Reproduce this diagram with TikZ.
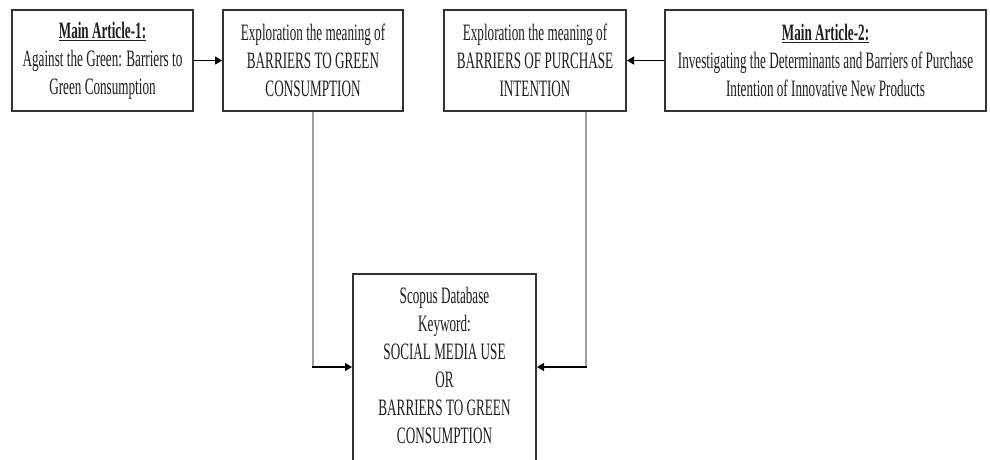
\documentclass[tikz,border=0pt]{standalone}
\usepackage{fontspec}
\setmainfont{Liberation Serif}[FakeStretch=0.56]
\usetikzlibrary{arrows.meta}
\definecolor{boxgray}{HTML}{333333}
\definecolor{linegray}{HTML}{A0A0A0}
\definecolor{txt}{HTML}{1E1E1E}
\begin{document}
\begin{tikzpicture}[x=1pt,y=-1pt,
  box/.style={draw=boxgray, line width=2pt, align=center, inner sep=0pt,
    text=txt, font=\fontsize{23.5}{28}\selectfont},
  plaintext/.style={align=center, inner sep=0pt, text=txt,
    font=\fontsize{23.5}{28}\selectfont},
  arr/.style={draw=black, line width=1.3pt, -{Triangle[length=7pt,width=8pt]}},
  vline/.style={draw=linegray, line width=1.5pt}]
\useasboundingbox (0,0) rectangle (990,459);
\clip (0,0) rectangle (990,459);
\fill[white] (0,0) rectangle (990,459);

\node[box, minimum width=181pt, minimum height=101pt] (b1) at (102.5,60.5)
  {\underline{\textbf{Main Article-1:}}\\Against the Green: Barriers to\\Green Consumption};
\node[box, minimum width=180pt, minimum height=101pt] (b2) at (313,60.5)
  {Exploration the meaning of\\BARRIERS TO GREEN\\CONSUMPTION};
\node[box, minimum width=182pt, minimum height=101pt] (b3) at (535,60.5)
  {Exploration the meaning of\\BARRIERS OF PURCHASE\\INTENTION};
\node[box, minimum width=321pt, minimum height=101pt] (b4) at (825.5,60.5)
  {\underline{\textbf{Main Article-2:}}\\Investigating the Determinants and Barriers of Purchase\\Intention of Innovative New Products};

\node[box, minimum width=183pt, minimum height=220pt, anchor=north] (b5) at (444.5,273) {};
\node[plaintext, anchor=north] (b5t) at ([yshift=-14pt]b5.north)
  {Scopus Database\\Keyword:\\SOCIAL MEDIA USE\\OR\\BARRIERS TO GREEN\\CONSUMPTION};

\draw[arr] (b1.east) -- (b2.west);
\draw[arr] (b4.west) -- (b3.east);

\coordinate (c1) at (313,367);
\coordinate (c2) at (586,367);
\draw[vline] (b2.south) -- (c1);
\draw[vline] (c2 |- b3.south) -- (c2);
\draw[arr] ([xshift=-0.75pt]c1) -- (c1 -| b5.west);
\draw[arr] ([xshift=0.75pt]c2) -- (c2 -| b5.east);
\end{tikzpicture}
\end{document}
